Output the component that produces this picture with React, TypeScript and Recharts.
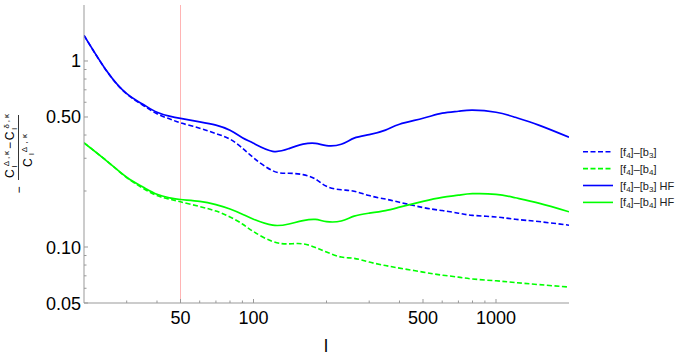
import React from "react";
import { LineChart, Line, XAxis, YAxis, ReferenceLine } from "recharts";

// multipole l
const L = [20, 25, 30, 35, 40, 45, 50, 60, 70, 80, 90, 100, 120, 140, 160, 180, 200, 230, 260, 300, 350, 400, 500, 600, 700, 800, 1000, 1200, 1500, 2000];

const B3 = [1.374, 0.87, 0.665, 0.578, 0.52, 0.489, 0.465, 0.435, 0.407, 0.38, 0.34, 0.302, 0.257, 0.249, 0.245, 0.232, 0.212, 0.203, 0.1995, 0.189, 0.181, 0.174, 0.163, 0.157, 0.152, 0.148, 0.145, 0.141, 0.137, 0.131];
const B4 = [0.363, 0.288, 0.236, 0.207, 0.189, 0.181, 0.175, 0.165, 0.156, 0.145, 0.133, 0.121, 0.107, 0.104, 0.104, 0.0995, 0.094, 0.0883, 0.0869, 0.083, 0.0795, 0.077, 0.0733, 0.0706, 0.0689, 0.0673, 0.0658, 0.0644, 0.0628, 0.0609];
const B3_HF = [1.374, 0.872, 0.667, 0.585, 0.53, 0.505, 0.491, 0.471, 0.452, 0.424, 0.387, 0.361, 0.327, 0.338, 0.357, 0.361, 0.351, 0.357, 0.385, 0.402, 0.425, 0.457, 0.492, 0.524, 0.537, 0.544, 0.53, 0.498, 0.452, 0.389];
const B4_HF = [0.363, 0.288, 0.237, 0.21, 0.192, 0.184, 0.18, 0.176, 0.169, 0.16, 0.15, 0.141, 0.131, 0.133, 0.1386, 0.1407, 0.137, 0.138, 0.1465, 0.152, 0.157, 0.1637, 0.176, 0.185, 0.19, 0.1935, 0.192, 0.184, 0.172, 0.1546];

const X_TICKS = [30, 40, 50, 60, 70, 80, 90, 100, 200, 300, 400, 500, 600, 700, 800, 900, 1000];
const X_LABELS = [50, 100, 500, 1000];
const Y_TICKS = [0.05, 0.06, 0.07, 0.08, 0.09, 0.1, 0.2, 0.3, 0.4, 0.5, 0.6, 0.7, 0.8, 0.9, 1];
const Y_LABELS = [0.05, 0.1, 0.5, 1];

const data = L.map((l, i) => ({ l, b3: B3[i], b4: B4[i], b3hf: B3_HF[i], b4hf: B4_HF[i] }));

const FRAME = "#999";
const BLUE = "#0000ff";
const GREEN = "#00ff00";
const FONT = "'Liberation Sans', Arial, sans-serif";

const yFmt = (v: number) => (v === 1 ? "1" : v.toFixed(2));

function BottomTick({ x, y, payload }: any) {
  const major = X_LABELS.includes(payload.value);
  return (
    <g>
      <line x1={x} x2={x} y1={y} y2={y - (major ? 4 : 2.5)} stroke={FRAME} />
      {major && (
        <text x={x} y={y + 21} textAnchor="middle" fontSize={18} fill="#000" fontFamily={FONT}>
          {payload.value}
        </text>
      )}
    </g>
  );
}

function TopTick({ x, y, payload }: any) {
  const major = X_LABELS.includes(payload.value);
  return <line x1={x} x2={x} y1={y} y2={y + (major ? 4 : 2.5)} stroke={FRAME} />;
}

function LeftTick({ x, y, payload }: any) {
  const major = Y_LABELS.includes(payload.value);
  return (
    <g>
      <line x1={x} x2={x + (major ? 4 : 2.5)} y1={y} y2={y} stroke={FRAME} />
      {major && (
        <text x={x - 3} y={y + 6.5} textAnchor="end" fontSize={18} fill="#000" fontFamily={FONT}>
          {yFmt(payload.value)}
        </text>
      )}
    </g>
  );
}

function RightTick({ x, y, payload }: any) {
  const major = Y_LABELS.includes(payload.value);
  return <line x1={x} x2={x - (major ? 4 : 2.5)} y1={y} y2={y} stroke={FRAME} />;
}

const LEGEND = [
  { b: "3", hf: false, color: BLUE },
  { b: "4", hf: false, color: GREEN },
  { b: "3", hf: true, color: BLUE },
  { b: "4", hf: true, color: GREEN },
];

export default function App() {
  return (
    <div style={{ position: "absolute", left: 0, top: 0, width: 680, height: 357, background: "#fff", fontFamily: FONT }}>
      <LineChart width={680} height={357} data={data} margin={{ top: 5, right: 111, bottom: 24, left: 24 }}>
        <XAxis
          dataKey="l" type="number" scale="log" domain={[20, 2000]} allowDataOverflow
          ticks={X_TICKS} interval={0} tick={<BottomTick />} tickSize={0} tickMargin={0}
          height={30} axisLine={{ stroke: FRAME }} tickLine={false}
        />
        <XAxis
          xAxisId="top" orientation="top" dataKey="l" type="number" scale="log" domain={[20, 2000]} allowDataOverflow
          ticks={X_TICKS} interval={0} tick={<TopTick />} tickSize={0} tickMargin={0}
          height={0} axisLine={{ stroke: FRAME }} tickLine={false}
        />
        <YAxis
          type="number" scale="log" domain={[0.05, 2]} allowDataOverflow
          ticks={Y_TICKS} interval={0} tick={<LeftTick />} tickSize={0} tickMargin={0}
          width={60} axisLine={{ stroke: FRAME }} tickLine={false}
        />
        <YAxis
          yAxisId="right" orientation="right" type="number" scale="log" domain={[0.05, 2]} allowDataOverflow
          ticks={Y_TICKS} interval={0} tick={<RightTick />} tickSize={0} tickMargin={0}
          width={0} axisLine={{ stroke: FRAME }} tickLine={false}
        />
        <ReferenceLine x={50} stroke="#ffb4b4" strokeWidth={1} />
        <Line type="natural" dataKey="b3" stroke={BLUE} strokeWidth={1.6} strokeDasharray="5 2.5" dot={false} isAnimationActive={false} />
        <Line type="natural" dataKey="b4" stroke={GREEN} strokeWidth={1.6} strokeDasharray="5 2.5" dot={false} isAnimationActive={false} />
        <Line type="natural" dataKey="b3hf" stroke={BLUE} strokeWidth={1.7} dot={false} isAnimationActive={false} />
        <Line type="natural" dataKey="b4hf" stroke={GREEN} strokeWidth={1.7} dot={false} isAnimationActive={false} />
      </LineChart>

      <svg width={680} height={357} style={{ position: "absolute", left: 0, top: 0, pointerEvents: "none" }}>
        {/* y axis title: -(C^Δκ - C^δκ)/C^Δκ, rotated */}
        <g transform="translate(18.5,147.5) rotate(-90)" fill="#000" fontFamily={FONT}>
          <text x={1.5} y={-4.5} textAnchor="middle" fontSize={12} textLength={64} lengthAdjust="spacing">
            C<tspan fontSize={8} dy={2.5}>l</tspan>
            <tspan fontSize={8} dx={-2.5} dy={-7.5}>Δ,κ</tspan>
            <tspan dy={5}>−C</tspan>
            <tspan fontSize={8} dy={2.5}>l</tspan>
            <tspan fontSize={8} dx={-2.5} dy={-7.5}>δ,κ</tspan>
          </text>
          <line x1={-32.5} x2={32.5} y1={0} y2={0} stroke="#000" strokeWidth={0.8} />
          <text x={-3} y={13} textAnchor="middle" fontSize={12} textLength={33} lengthAdjust="spacing">
            C<tspan fontSize={8} dy={2.5}>l</tspan>
            <tspan fontSize={8} dx={-2.5} dy={-7.5}>Δ,κ</tspan>
          </text>
          <text x={-42.5} y={4} textAnchor="middle" fontSize={12}>−</text>
        </g>

        <text x={326} y={352} textAnchor="middle" fontSize={18} fill="#000" fontFamily={FONT}>l</text>

        {LEGEND.map((it, i) => {
          const y = 151.7 + i * 16.9;
          return (
            <g key={i}>
              <line x1={583} x2={613} y1={y} y2={y} stroke={it.color} strokeWidth={1.6} strokeDasharray={it.hf ? undefined : "5 2.5"} />
              <text x={620} y={y + 4} fontSize={11} fill="#222" fontFamily={FONT}>
                [f<tspan fontSize={8} dy={2}>4</tspan>
                <tspan dy={-2}>]–[b</tspan>
                <tspan fontSize={8} dy={2}>{it.b}</tspan>
                <tspan dy={-2}>]{it.hf ? " HF" : ""}</tspan>
              </text>
            </g>
          );
        })}
      </svg>
    </div>
  );
}
